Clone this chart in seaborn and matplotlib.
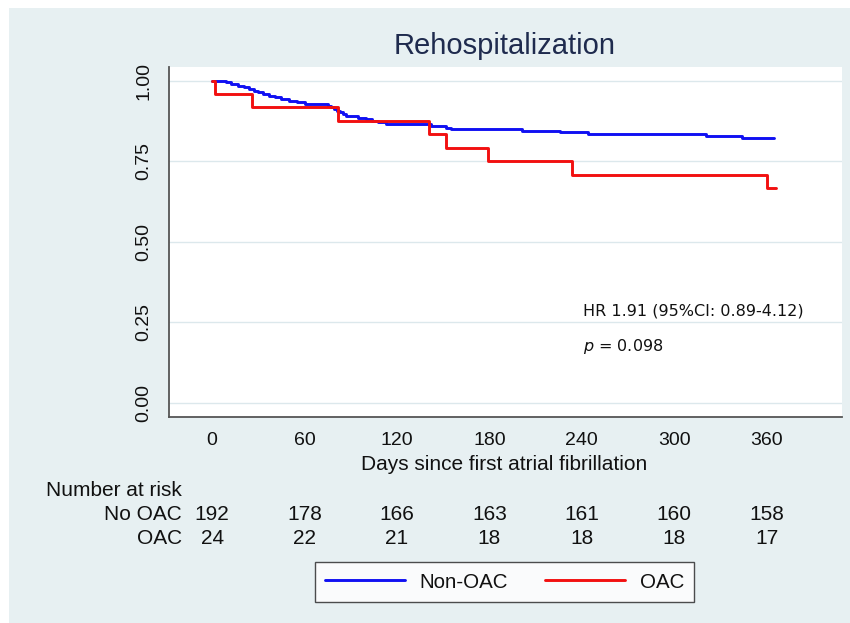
import matplotlib
matplotlib.use("Agg")
import matplotlib.pyplot as plt
import matplotlib.transforms as mtransforms
from matplotlib.patches import Rectangle
from matplotlib.lines import Line2D
import pandas as pd
import seaborn as sns

# Kaplan-Meier step points: day of each drop and survival after it
noac_days = [0, 9, 12, 17, 21, 24, 27, 30, 33, 37, 41, 45, 50, 55, 60,
             75, 77, 79, 81, 83, 85, 87, 95, 100, 104, 108, 113,
             142, 152, 155, 201, 226, 244, 321, 344]
noac_surv = [1.000, 0.995, 0.990, 0.984, 0.979, 0.974, 0.969, 0.964, 0.958,
             0.953, 0.948, 0.943, 0.938, 0.932, 0.927,
             0.922, 0.917, 0.911, 0.906, 0.901, 0.896, 0.891, 0.885, 0.880,
             0.875, 0.870, 0.865,
             0.859, 0.854, 0.849, 0.844, 0.839, 0.833, 0.828, 0.823]
noac_last_day = 365

oac_days = [0, 2, 26, 82, 141, 152, 179, 234, 360]
oac_surv = [1.000, 0.958, 0.917, 0.875, 0.833, 0.792, 0.750, 0.708, 0.667]
oac_last_day = 366

groups = ["Non-OAC", "OAC"]
group_colors = ["#1010F2", "#F21010"]

risk_days = [0, 60, 120, 180, 240, 300, 360]
risk_noac = [192, 178, 166, 163, 161, 160, 158]
risk_oac = [24, 22, 21, 18, 18, 18, 17]
risk_rows = ["No OAC", "OAC"]

y_ticks = [0.00, 0.25, 0.50, 0.75, 1.00]
title = "Rehospitalization"
x_title = "Days since first atrial fibrillation"
hr_label = "HR 1.91 (95%CI: 0.89-4.12)"
p_label = "0.098"

# Long table of the two curves, each extended to its last follow-up day
frames = []
for name, days, surv, last in [("Non-OAC", noac_days, noac_surv, noac_last_day),
                               ("OAC", oac_days, oac_surv, oac_last_day)]:
    frames.append(pd.DataFrame({"day": list(days) + [last],
                                "surv": list(surv) + [surv[-1]],
                                "group": name}))
curves = pd.concat(frames, ignore_index=True)

sns.set_style("white")
plt.rcParams["font.family"] = ["Liberation Sans", "DejaVu Sans"]

W, H = 850, 623
fig = plt.figure(figsize=(W / 100, H / 100), dpi=100)
fig.patch.set_facecolor("white")
fig.add_artist(Rectangle((9 / W, 0), 1 - 9 / W, 1 - 8 / H,
                         transform=fig.transFigure, facecolor="#E7F0F2",
                         edgecolor="none", zorder=-10))


def fx(px):
    return px / W


def fy(py):
    return 1 - py / H


ax = fig.add_axes([fx(169), fy(417), fx(842) - fx(169), fy(67) - fy(417)])
ax.set_facecolor("white")

sns.lineplot(data=curves, x="day", y="surv", hue="group", hue_order=groups,
             palette=group_colors, estimator=None, sort=False,
             drawstyle="steps-post", linewidth=2.1, legend=False, ax=ax,
             zorder=3)

ax.set_xlim(-28, 409)
ax.set_ylim(-0.043, 1.042)
ax.set_xticks(risk_days)
ax.set_xticklabels([str(d) for d in risk_days])
ax.set_yticks(y_ticks)
ax.set_yticklabels([f"{v:.2f}" for v in y_ticks])
ax.set_xlabel("")
ax.set_ylabel("")
ax.grid(axis="y", color="#DCE8EC", linewidth=1.0)
ax.grid(axis="x", visible=False)
ax.set_axisbelow(True)

for side in ["top", "right"]:
    ax.spines[side].set_visible(False)
for side in ["left", "bottom"]:
    ax.spines[side].set_color("#555555")
    ax.spines[side].set_linewidth(1.3)

ax.tick_params(axis="both", direction="out", length=6.5, width=1.0,
               color="#555555", labelsize=14, labelcolor="#111111")
ax.tick_params(axis="y", labelrotation=90, pad=5.5)
ax.tick_params(axis="x", pad=4)
for lab in ax.get_yticklabels():
    lab.set_va("center")

# Title and axis title
fig.text(fx(505), fy(46), title, ha="center", va="center", fontsize=21,
         color="#1F2B4E")
fig.text(fx(504), fy(465), x_title, ha="center", va="center", fontsize=15,
         color="#111111")

# Hazard ratio annotation
fig.text(fx(583), fy(311), hr_label, ha="left", va="center", fontsize=11.5,
         family=["DejaVu Sans"], color="#111111")
fig.text(fx(583), fy(347), r"$p$ = " + p_label, ha="left", va="center",
         fontsize=11.5, family=["DejaVu Sans"], color="#111111")

# Number-at-risk table under the time axis
blend = mtransforms.blended_transform_factory(ax.transData, fig.transFigure)
fig.text(fx(46), fy(490), "Number at risk", ha="left", va="center",
         fontsize=15, color="#111111")
for row_name, counts, ypx in [(risk_rows[0], risk_noac, 514),
                              (risk_rows[1], risk_oac, 539)]:
    fig.text(fx(182), fy(ypx), row_name, ha="right", va="center",
             fontsize=15, color="#111111")
    for d, n in zip(risk_days, counts):
        ax.text(d, fy(ypx), str(n), transform=blend, ha="center",
                va="center", fontsize=15, color="#111111", clip_on=False)

# Legend box below the table
handles = [Line2D([], [], color=c, linewidth=2.1) for c in group_colors]
leg = fig.legend(handles, groups, loc="center",
                 bbox_to_anchor=(fx(504.5), fy(582)),
                 bbox_transform=fig.transFigure, ncol=2, fontsize=14.8,
                 frameon=True, fancybox=False, shadow=False,
                 handlelength=3.9, handletextpad=0.7, columnspacing=1.8,
                 borderpad=0.5)
for t in leg.get_texts():
    t.set_color("#111111")
leg.get_frame().set_edgecolor("#222222")
leg.get_frame().set_linewidth(1.0)
leg.get_frame().set_facecolor("white")

fig.savefig("out.png", dpi=100, facecolor=fig.get_facecolor())
